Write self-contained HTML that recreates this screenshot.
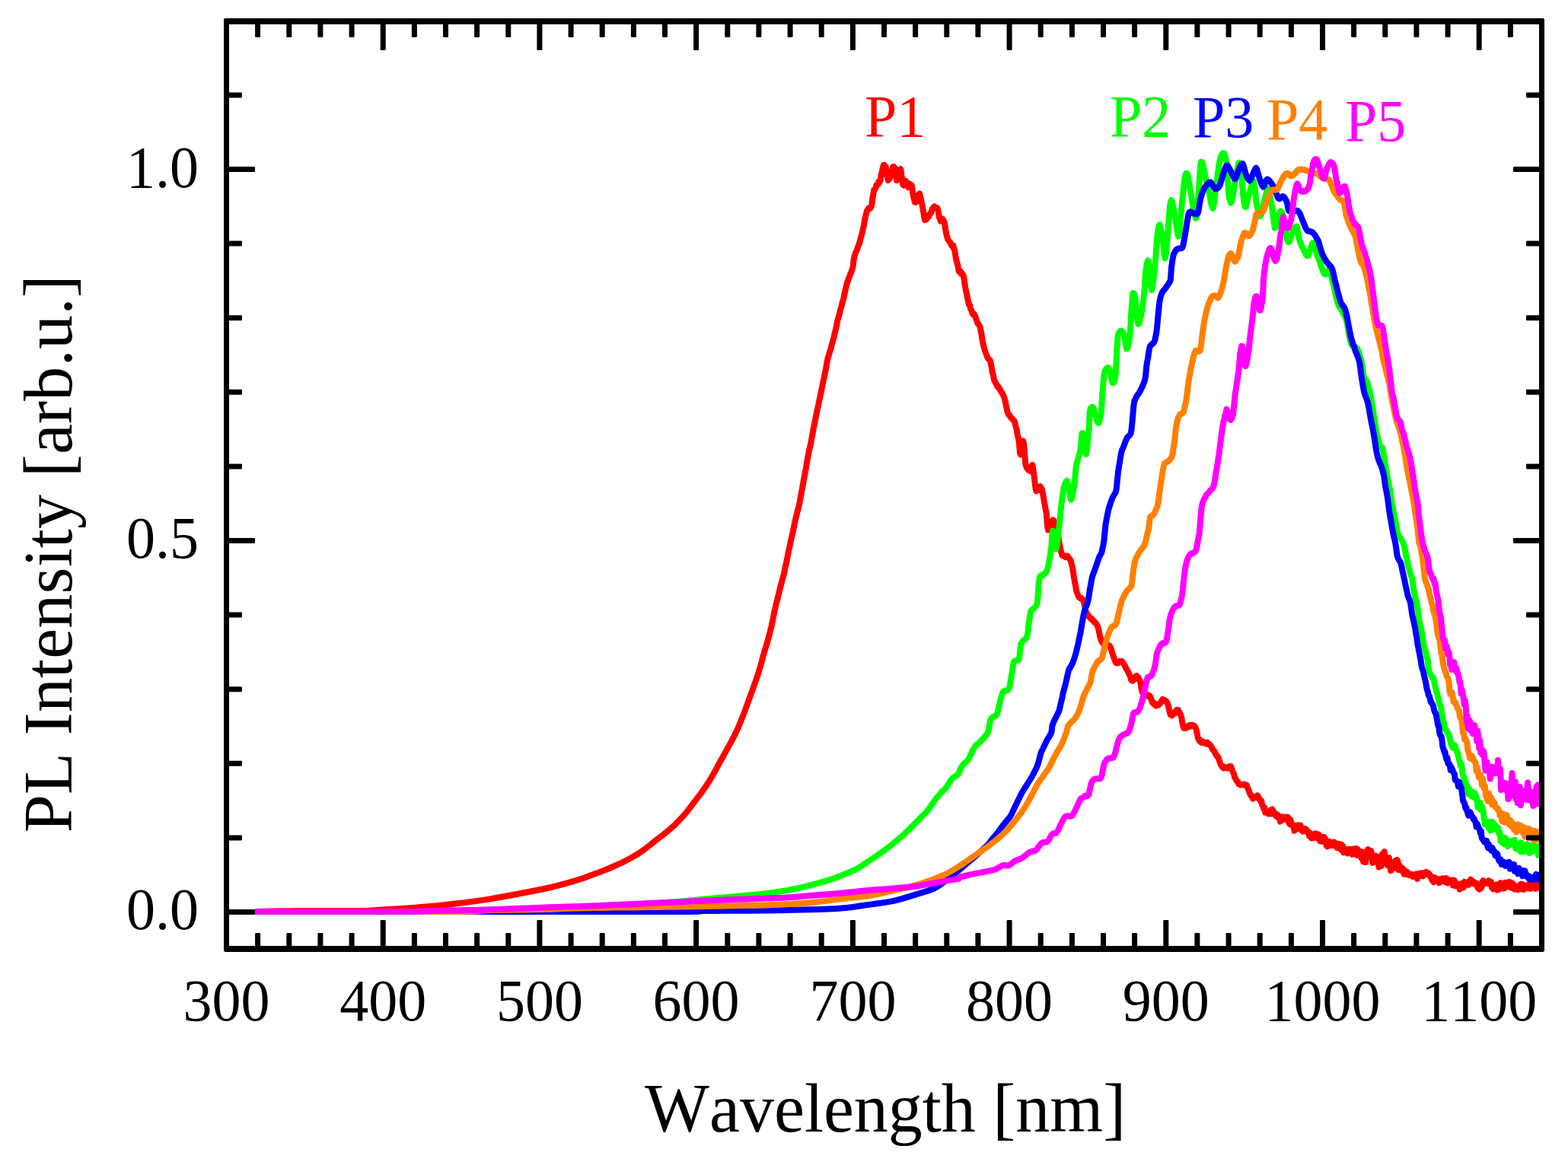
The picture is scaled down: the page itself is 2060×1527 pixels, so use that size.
<!DOCTYPE html>
<html lang="en">
<head>
<meta charset="utf-8">
<title>PL Intensity vs Wavelength</title>
<style>
html,body{margin:0;padding:0;background:#fff;}
body{width:2060px;height:1527px;overflow:hidden;}
svg{display:block;}
text{font-family:"Liberation Serif","DejaVu Serif",serif;font-kerning:none;}
.tk{font-size:77.7px;fill:#000;}
.ax{font-size:90px;fill:#000;}
.lb{font-size:77.7px;}
.cv{fill:none;stroke-width:8;stroke-linejoin:round;stroke-linecap:butt;}
</style>
</head>
<body>
<svg width="2060" height="1527" viewBox="0 0 2060 1527" role="img" aria-label="PL intensity versus wavelength for samples P1 to P5">
<rect x="0" y="0" width="2060" height="1527" fill="#ffffff"/>
<defs><clipPath id="plot"><rect x="297.5" y="28" width="1728" height="1219"/></clipPath></defs>
<g clip-path="url(#plot)">
<polyline class="cv" stroke="#ff0000" points="335,1198 346.9,1197.8 358.2,1197.5 369.9,1197.3 381.4,1197.2 392.1,1197.1 403.2,1197.1 414.9,1197.1 426.2,1197 437.2,1197 448.2,1197 459.3,1197 470,1196.9 481.9,1196.7 492.5,1196.2 502.8,1195.5 513.5,1194.8 523.9,1194.2 534.8,1193.5 545.3,1192.7 556.3,1191.8 566,1190.9 576.8,1189.9 588,1188.7 598.4,1187.5 610,1186.1 621.6,1184.6 632.2,1183.1 643.5,1181.4 654.4,1179.5 665.6,1177.5 676.5,1175.5 687.8,1173.3 698.4,1171.3 710,1169 721.6,1166.5 732.2,1163.9 743.5,1160.8 754.1,1157.8 764.9,1154.4 775.6,1150.6 786.6,1146.6 796.8,1142.5 806.9,1138.2 815.9,1134.2 826.5,1128.7 835.7,1123.6 845.4,1117.1 853.2,1111.1 861.2,1104.7 869.4,1098.4 878.2,1091.3 886.4,1084.2 894.2,1076.1 901.6,1067.8 908,1059.4 914.7,1050.6 921.1,1042.3 927.5,1033.1 933.7,1023.4 938.9,1014.2 944.5,1003.9 949.7,994.5 955.3,984.4 960.4,975.1 965.6,965.1 970.3,955.1 974,946 977.9,936.1 981.4,926.5 985,916.7 988.6,906.8 992.6,895.5 996.1,885.4 999.4,874.4 1002.1,863.8 1005.1,853.6 1008.2,843.5 1011.3,832.1 1013.4,823.4 1015.4,813.8 1017.5,803.5 1019.6,794.4 1021.6,786.2 1023.7,777.8 1025.7,769.8 1027.8,761.7 1029.9,754.1 1031.9,744.5 1034,734.9 1036,724.5 1038.1,714.9 1040.2,705.5 1042.2,696.3 1044.3,686.2 1046.3,677.6 1047.4,672.9 1048.4,669.4 1050.5,660.3 1052.5,649.6 1054.6,638.5 1056.6,627 1058.7,616.2 1059.7,610.2 1060.8,603.8 1062.8,592.7 1064.9,584.2 1066.9,573.4 1069,561.6 1071.1,551.8 1073.1,541.3 1075.2,531.9 1077.2,522.4 1079.3,512.4 1081.4,502 1083.4,492.6 1085.5,482.4 1086.5,476 1087.5,471.4 1089.6,464 1091.7,457.4 1092.7,453.1 1094.8,446.1 1096.8,437.4 1098.9,428.9 1099.9,422.9 1103,412.1 1104,407.1 1105.1,404 1107.1,396.1 1108.1,392.8 1110.2,383.1 1112.3,373.6 1115.4,364.6 1116.4,362.8 1117.4,359.2 1118.4,357.7 1120.5,351.1 1121.5,342.3 1122.6,336.6 1124.6,330.7 1125.7,329.1 1127.7,322.7 1128.7,320.9 1130.8,313 1132.9,305.1 1134.9,296.3 1136,289.1 1138,280.7 1139,277.1 1140.1,275.2 1141.1,273.7 1142.1,274.5 1143.2,272.9 1144.2,272.8 1145.2,269.5 1146.3,260.7 1148.3,249.5 1149.3,248.6 1150.4,247.2 1151.4,243.2 1152.4,243.4 1153.5,242.4 1154.5,238.7 1155.5,239.7 1156.6,237.2 1157.6,230.3 1159.6,221.7 1160.7,217.2 1161.7,216.9 1163.8,219.2 1164.8,225.7 1165.8,232.8 1166.9,236.9 1167.9,235.1 1168.9,234.9 1171,228 1172,225.3 1173,219.5 1174.1,219 1175.1,221.7 1176.1,221.2 1177.2,232.5 1178.2,237.1 1179.2,236.4 1181.3,225.8 1182.3,223.3 1183.3,222.3 1184.4,230.8 1185.4,236 1186.4,243.1 1187.5,243.6 1188.5,239.5 1189.5,237.5 1190.5,239.3 1191.6,239.8 1192.6,241.7 1193.6,246.2 1194.7,245.7 1195.7,241.8 1196.7,243.2 1197.8,243.5 1198.8,250.8 1199.8,257.4 1201.9,265.8 1202.9,265.9 1203.9,265.4 1205,262.1 1206,257.2 1208.1,254.4 1209.1,258.2 1211.1,267.3 1213.2,278.5 1214.2,285.4 1215.3,289.2 1216.3,287.2 1217.3,288.2 1218.4,286.6 1219.4,283.5 1220.4,284.5 1221.4,281.5 1223.5,278.8 1224.5,275.4 1225.6,273.2 1226.6,272.8 1227.6,271.3 1228.7,272.6 1229.7,272.7 1231.7,273.6 1232.8,278.1 1233.8,285.6 1234.8,286.6 1235.9,290.7 1236.9,287.1 1239,288.4 1240,290.6 1241,293.5 1242,300.1 1243.1,306.9 1245.1,314.1 1247.2,317.5 1248.2,318.3 1249.3,321 1250.3,322.9 1251.3,323.8 1252.3,322.4 1253.4,327.8 1254.4,329.4 1255.4,337 1256.5,342.1 1258.5,349.6 1259.6,356.1 1260.6,355.3 1261.6,356.2 1262.6,359.6 1263.7,358.9 1265.7,362.1 1266.8,368.3 1267.8,375.8 1269.9,385.8 1271.9,395.5 1272.9,400.4 1274,400.7 1275,405.9 1276,407.2 1277.1,410.6 1278.1,413 1279.1,412 1280.2,413.6 1282.2,418.4 1284.3,424.7 1285.3,425.4 1286.3,427.5 1287.4,429 1289.4,438.6 1290.5,446.2 1291.5,451.6 1293.5,459.5 1296.6,468 1297.7,470.8 1298.7,471.3 1300.8,473.7 1302.8,483.1 1303.8,489.8 1304.9,493 1305.9,498.9 1308,503.3 1309,504.5 1310,507.6 1311.1,507.4 1312.1,510.2 1313.1,510.3 1315.2,514.9 1316.2,516 1318.3,519.8 1319.3,522.1 1320.3,525.9 1322.4,535.8 1323.4,540.5 1324.4,543.9 1326.5,546.1 1327.5,548.4 1328.6,548.6 1330.6,551.2 1331.7,552.7 1332.7,553.3 1334.7,561.1 1335.8,564.9 1336.8,572.2 1337.8,575.2 1338.9,581.4 1339.9,594.6 1340.9,597.5 1342,592.7 1343,584.8 1344,579.5 1345,582.4 1346.1,594.5 1347.1,609.2 1348.1,612.9 1349.2,615.3 1350.2,615.6 1351.2,618 1352.3,618 1353.3,619 1354.3,617.2 1355.3,612.4 1356.4,610.9 1357.4,616.9 1358.4,624.2 1359.5,633.4 1360.5,641.8 1361.5,645.3 1363.6,644.2 1364.6,641.4 1365.6,641 1366.7,639.2 1368.7,642.8 1369.8,647.1 1371.8,658.9 1373.9,670.5 1374.9,675 1375.9,690.2 1377,696.5 1378,695.7 1379,693.1 1380.1,692.3 1381.1,689.7 1382.1,685.5 1383.2,683.3 1384.2,683.7 1386.2,689.1 1388.3,696.8 1390.4,705.3 1391.4,711.9 1393.5,722.4 1394.5,726.8 1395.5,729.8 1397.6,730.8 1398.6,730.6 1399.6,732.1 1400.7,730.7 1401.7,731.8 1402.7,730.8 1404.8,734.1 1405.8,735.3 1406.8,737.3 1408.9,745.4 1409.9,751.3 1411,759.4 1413,769.6 1414.1,776.5 1417.1,784.4 1418.2,785.6 1419.2,785.2 1420.2,785.8 1421.3,787.7 1423.3,788.7 1425.4,797.4 1426.4,803.3 1427.4,804.8 1428.5,807.8 1429.5,808.1 1430.5,810.3 1432.6,811.9 1433.6,813.9 1434.7,813.3 1435.7,815.4 1436.7,815.7 1437.7,817.9 1438.8,817.8 1439.8,819 1440.8,820.6 1442.9,825.4 1443.9,829.9 1445,836.1 1446,839.6 1448,844.4 1449.1,845.1 1451.1,848.8 1452.2,848.4 1453.2,849 1454.2,848.1 1455.3,848.5 1456.3,847.7 1457.3,848.1 1458.3,849.5 1459.4,851.6 1461.4,858.8 1462.5,861.5 1463.5,864.9 1465.6,870 1466.6,871.3 1467.6,870.5 1468.6,871.4 1469.7,870.5 1470.7,869 1471.7,869.7 1472.8,869.4 1473.8,868.8 1477.9,874.7 1478.9,877.7 1480,878.9 1483.1,885.4 1484.1,886.8 1485.1,889.7 1486.2,893.7 1487.2,893.2 1488.2,894.6 1490.3,892.1 1492.3,888.6 1493.4,888.2 1494.4,890 1495.4,889.9 1496.5,893.2 1497.5,894.4 1498.5,897 1499.5,905 1500.6,909.6 1501.6,910 1502.6,910.8 1503.7,911 1504.7,912.6 1505.7,913.9 1506.8,913.4 1507.8,914.5 1508.8,913.5 1509.8,915.6 1510.9,914.8 1514,923.3 1515,922.8 1516,925.3 1517.1,926.4 1518.1,925.3 1519.1,927.6 1520.1,926.5 1521.2,925.8 1522.2,926.4 1523.2,925 1524.3,924.1 1527.4,918.9 1528.4,919.9 1529.4,919.7 1530.4,921.1 1531.5,920.6 1533.5,923.7 1534.6,926.2 1536.6,935.4 1537.7,939.3 1538.7,939.5 1539.7,940.3 1541.8,938.4 1542.8,938 1543.8,935.3 1544.9,934.4 1545.9,932.9 1546.9,933.8 1548,933.2 1549,936.6 1550,936.9 1551,938.9 1552.1,942.4 1553.1,948.6 1554.1,953.5 1555.2,956.7 1556.2,957.1 1557.2,956.8 1558.3,956.8 1559.3,955.2 1560.3,954.7 1561.3,955.2 1562.4,953 1563.4,952.8 1564.4,954.4 1565.5,954 1566.5,952.7 1567.5,953.9 1568.6,953.7 1569.6,954.3 1570.6,956.1 1571.6,958.7 1573.7,968.8 1574.7,971.6 1575.8,973.7 1576.8,972.6 1577.8,975.4 1578.9,973.9 1579.9,976.2 1580.9,975 1581.9,976.1 1583,976.4 1584,977.3 1585,975.7 1586.1,975.5 1587.1,977.6 1588.1,978.1 1589.2,978.3 1591.2,980.9 1592.2,983.2 1594.3,986.2 1595.3,986.9 1596.4,989.8 1597.4,991.2 1598.4,993.5 1599.5,993.6 1600.5,995.5 1603.6,1004.4 1605.6,1007.8 1606.7,1007 1607.7,1009.6 1608.7,1008.8 1610.8,1008.6 1611.8,1008.1 1612.8,1009.5 1613.9,1007.6 1615.9,1007 1617,1007.1 1619,1012.3 1620.1,1015.6 1621.1,1017.3 1622.1,1021.7 1623.1,1022.9 1625.2,1026.9 1626.2,1027.4 1627.3,1030.2 1628.3,1030.1 1629.3,1031.6 1633.4,1031 1634.5,1030.5 1635.5,1032 1636.5,1031.1 1637.6,1031.5 1638.6,1033.6 1642.7,1044.5 1643.7,1045.8 1644.8,1046.5 1645.8,1049.5 1646.8,1049.1 1647.9,1046.9 1648.9,1047.7 1649.9,1046.4 1651,1046.4 1652,1045.4 1653,1046.5 1654,1049.8 1655.1,1050.1 1656.1,1052.8 1657.1,1052.1 1658.2,1057.6 1659.2,1059.3 1660.2,1062.5 1661.3,1061.4 1662.3,1067.7 1663.3,1066.1 1665.4,1067.4 1666.4,1069.4 1667.4,1066.3 1668.5,1069.1 1669.5,1064.5 1670.5,1069.4 1671.6,1063.5 1672.6,1067 1673.6,1069 1674.6,1067.9 1675.7,1071.6 1676.7,1073.1 1677.7,1073.3 1678.8,1070.9 1679.8,1074.8 1680.8,1072.5 1681.9,1079.7 1682.9,1073.8 1683.9,1078.4 1684.9,1076.3 1686,1073.5 1687,1076.4 1688,1075.8 1689.1,1076.8 1690.1,1073.5 1691.1,1075.6 1692.2,1074 1693.2,1081 1694.2,1082.7 1695.2,1076.8 1696.3,1081.2 1697.3,1084.3 1698.3,1084 1699.4,1084.2 1700.4,1091.7 1701.4,1089.5 1702.5,1090.2 1703.5,1087.5 1704.5,1088.9 1705.5,1084.4 1706.6,1085.8 1708.6,1084.7 1709.7,1090.1 1710.7,1091.9 1711.7,1092.7 1712.8,1091.6 1713.8,1091.2 1714.8,1089.2 1715.8,1091.4 1716.9,1090.8 1717.9,1094.1 1718.9,1093 1720,1098.4 1721,1094.5 1722,1095.7 1723.1,1101.5 1724.1,1100.2 1725.1,1099.6 1726.1,1100.9 1727.2,1095.6 1728.2,1095.3 1729.2,1101.2 1731.3,1101.1 1732.3,1096.3 1733.4,1102.5 1734.4,1105.5 1735.4,1100.6 1736.4,1100 1737.5,1105.9 1738.5,1100.9 1739.5,1100 1741.6,1103.1 1742.6,1111.2 1743.7,1112.3 1744.7,1105.9 1745.7,1107.3 1746.7,1105.9 1747.8,1111.2 1748.8,1107.2 1749.8,1107.2 1750.9,1107.7 1751.9,1111.3 1752.9,1106.6 1754,1107.6 1755,1110.2 1756,1109.1 1757,1114.1 1759.1,1108.9 1760.1,1113.6 1761.2,1116 1762.2,1109.6 1763.2,1117.6 1764.3,1111.6 1765.3,1120.3 1766.3,1117.5 1767.3,1118.9 1768.4,1118.7 1769.4,1116.3 1770.4,1121.6 1771.5,1116 1772.5,1120 1773.5,1116 1774.6,1120.3 1775.6,1118.5 1776.6,1122.8 1777.6,1115.5 1778.7,1119.8 1779.7,1119.5 1780.7,1116.4 1781.8,1114.9 1782.8,1123.8 1783.8,1116.1 1785.9,1120.2 1786.9,1119 1787.9,1126.4 1789,1128.3 1790,1119.5 1791,1132.2 1792.1,1126.2 1793.1,1127.2 1794.1,1133.1 1795.2,1119.2 1796.2,1125.5 1797.2,1116.3 1798.2,1125.1 1799.3,1125.2 1800.3,1125.9 1801.3,1118.1 1802.4,1127.3 1803.4,1133.9 1805.5,1128.3 1806.5,1124.5 1807.5,1127.8 1808.5,1125 1809.6,1126.6 1810.6,1135 1811.6,1139.5 1812.7,1133.2 1813.7,1131.1 1814.7,1138.3 1815.8,1122.5 1816.8,1132 1817.8,1133.4 1818.8,1119.3 1819.9,1127.6 1820.9,1134.5 1821.9,1128.7 1823,1136.9 1824,1127.6 1825,1127.2 1826.1,1137.6 1827.1,1144.2 1828.1,1133.4 1829.1,1139 1831.2,1141 1832.2,1133.1 1833.3,1131.2 1834.3,1139.1 1835.3,1129.9 1836.4,1131.6 1837.4,1143.1 1838.4,1136.8 1840.5,1142.5 1841.5,1144.3 1842.5,1140.5 1843.6,1142.6 1844.6,1148.6 1845.6,1145.2 1846.7,1147.7 1847.7,1145 1848.7,1149.2 1849.7,1147 1850.8,1149.3 1851.8,1150.2 1852.8,1149.8 1853.9,1149 1854.9,1151.1 1855.9,1151.9 1857,1150.1 1858,1149.2 1859,1149.9 1860,1149.4 1861.1,1148.6 1862.1,1154.9 1863.1,1150 1864.2,1151.7 1865.2,1147.8 1867.3,1147.2 1869.3,1151.3 1870.3,1148.7 1872.4,1146.4 1873.4,1145.9 1874.5,1148.4 1875.5,1146.9 1876.5,1149.4 1877.6,1148.2 1880.6,1155 1881.7,1156.9 1882.7,1152.6 1883.7,1159.3 1884.8,1153.3 1885.8,1157.2 1886.8,1155.6 1887.9,1155.8 1888.9,1156.3 1889.9,1155.3 1890.9,1160.2 1892,1157.1 1893,1158.7 1894,1158.2 1895.1,1154.2 1897.1,1154.4 1898.2,1158 1899.2,1159.3 1900.2,1154.1 1901.2,1155 1902.3,1160.4 1903.3,1158 1904.3,1156.7 1905.4,1158.8 1906.4,1159.6 1907.4,1156.5 1908.5,1163 1909.5,1161.7 1910.5,1156.6 1911.5,1164.3 1912.6,1159.6 1913.6,1164.1 1914.6,1163.1 1915.7,1163.5 1916.7,1162.8 1917.7,1168.6 1919.8,1161.4 1920.8,1162.4 1921.8,1166.8 1922.9,1166.4 1923.9,1158.9 1924.9,1161.7 1926,1159.6 1927,1159.8 1928,1162 1929.1,1162.8 1930.1,1159 1932.1,1155.6 1933.2,1160.6 1934.2,1157.3 1935.2,1160.1 1936.3,1159 1937.3,1161.9 1938.3,1161.6 1939.4,1161.7 1940.4,1160.9 1941.4,1166.7 1942.4,1166.9 1943.5,1168.7 1944.5,1166.2 1945.5,1167.6 1946.6,1165.3 1947.6,1158.8 1948.6,1157.2 1949.7,1159.7 1950.7,1161.1 1951.7,1160.3 1953.8,1160.7 1954.8,1161.1 1955.8,1157.3 1956.9,1161 1957.9,1161.2 1958.9,1158.8 1960,1166.4 1961,1165.5 1962,1168.5 1963,1163.1 1964.1,1166.5 1965.1,1164.9 1966.1,1162.5 1967.2,1169.6 1968.2,1166.8 1969.2,1168.8 1970.3,1161.4 1971.3,1160.3 1972.3,1163.9 1973.3,1161.2 1974.4,1166.3 1975.4,1167.6 1976.4,1167.3 1977.5,1159.8 1978.5,1162.8 1979.5,1163.6 1980.6,1160.5 1981.6,1165.1 1982.6,1159 1983.6,1159.2 1984.7,1161.3 1985.7,1166.7 1986.7,1160.4 1987.8,1161.7 1989.8,1168.7 1990.9,1166.7 1991.9,1167.4 1992.9,1164.5 1993.9,1169.3 1995,1165.7 1996,1166.2 1997,1164.5 1998.1,1161.7 1999.1,1168.5 2000.1,1161.9 2001.2,1167.7 2002.2,1168.9 2003.2,1168 2004.2,1163.9 2005.3,1163.4 2006.3,1163.3 2007.3,1163.8 2008.4,1167.4 2009.4,1161.8 2010.4,1163.7 2011.5,1167.6 2012.5,1162.3 2013.5,1165.8 2014.5,1161.7 2015.6,1162.8 2016.6,1161 2017.6,1167.8 2018.7,1164.9 2019.7,1163.3 2020.7,1164.1 2021.8,1162.8 2022.8,1166.9 2023.8,1159.8 2024.8,1165.9 2025.9,1165.4 2026.9,1167.1 2028.9,1165.7"/>
<polyline class="cv" stroke="#00ff00" points="335,1198.2 345.7,1198.2 356.4,1198.2 367.5,1198.2 377.7,1198.2 388.8,1198.3 400.5,1198.3 410.2,1198.3 420.2,1198.3 430.3,1198.3 440.5,1198.3 450.7,1198.3 460.8,1198.3 470.7,1198.3 480.4,1198.3 492.1,1198.3 503.1,1198.3 513.4,1198.3 524.3,1198.3 535.1,1198.2 546.9,1198.1 558.3,1198 569.7,1197.8 580.8,1197.6 591.6,1197.3 602,1197.1 613.8,1196.8 624.6,1196.5 635.8,1196.1 647.3,1195.8 657.7,1195.4 668.9,1195 680.5,1194.5 691.8,1194.1 702.4,1193.7 713.2,1193.3 724.5,1192.8 735.2,1192.5 745.4,1192.2 756.6,1191.9 768.3,1191.5 778.9,1191.1 790.2,1190.6 801.1,1190.2 811.6,1189.7 823.1,1189.1 834.3,1188.5 845.5,1187.9 857,1187.2 867.6,1186.5 878.6,1185.7 889.5,1184.9 900,1184.1 909.9,1183.2 921,1182.1 932.7,1180.9 943.8,1179.9 954.8,1179 966.5,1178 977.3,1177.1 988.1,1176.1 1000,1174.9 1010.9,1173.5 1022.3,1171.8 1033.2,1170.2 1043.5,1168.3 1054.1,1165.8 1064.8,1163.1 1074.8,1160.6 1085.1,1157.7 1095.5,1154.2 1105.5,1150.4 1116.4,1146 1126.6,1141.3 1135,1135.9 1144.1,1129.7 1153.4,1123.4 1162.2,1117.2 1171,1110.4 1179.7,1103.3 1188.2,1095.9 1195.5,1088.8 1203.1,1081.1 1211.3,1072.8 1218.5,1065.5 1224.7,1056.5 1228.8,1050.6 1231.9,1046.8 1233,1045.8 1237.1,1040.8 1239.1,1039 1240.2,1037.8 1241.2,1037 1243.3,1034.6 1249.4,1025 1251.5,1022.5 1252.5,1021.7 1253.6,1021.3 1258.7,1017.5 1262.8,1008.8 1263.9,1006.5 1265.9,1003.9 1268,1002.1 1269,1001.5 1271.1,999.5 1273.1,996.6 1275.2,991.9 1276.2,990.1 1277.2,987.4 1281.4,980.4 1284.5,977.3 1285.5,976.8 1291.7,970.6 1293.7,968 1294.8,967.2 1297.8,962.7 1298.9,958.4 1300.9,947.1 1302,944.8 1303,943.4 1305.1,941.7 1306.1,942 1308.1,940.3 1309.2,939.8 1310.2,937.4 1312.3,929 1313.3,923.9 1314.3,920.4 1315.4,915.7 1317.4,909.7 1319.5,907.9 1321.5,907.7 1323.6,907.1 1324.6,906.1 1325.7,904.4 1326.7,901.1 1327.7,894.9 1328.7,888.7 1329.8,882.8 1330.8,874.8 1331.8,869.8 1332.9,868.7 1334.9,868.1 1338,867.6 1339,865.9 1340.1,855.1 1341.1,846.4 1343.2,843.1 1346.3,840.1 1347.3,839.5 1348.3,838.3 1349.3,836 1350.4,830.5 1351.4,820.9 1352.4,813.6 1353.5,806.8 1354.5,802.7 1355.5,801.8 1356.6,800.3 1357.6,800.2 1359.6,798.1 1360.7,796.7 1362.7,792.9 1363.8,780 1364.8,765.6 1365.8,758.6 1367.9,756.1 1368.9,755.4 1369.9,755.7 1371,754.8 1372,754.6 1374.1,752.1 1375.1,750.3 1376.1,748 1378.2,738.5 1380.2,727.3 1381.3,718.3 1382.3,701.3 1383.3,697.7 1384.4,703.7 1385.4,711.1 1386.4,717 1387.5,721.5 1388.5,718.4 1389.5,710 1390.5,700.7 1391.6,691.2 1392.6,680.9 1393.6,669.7 1394.7,660.9 1395.7,653.2 1396.7,645.7 1397.8,640.3 1399.8,634.1 1400.8,632.6 1401.9,631.7 1402.9,634.8 1405,645.1 1406,652.6 1407,656.7 1408.1,655.2 1410.1,645.4 1411.1,639 1412.2,629.1 1413.2,617.1 1414.2,610.3 1417.3,599.6 1418.4,595.7 1419.4,590.4 1420.4,580.4 1421.4,569.5 1422.5,569.3 1424.5,581 1425.6,590.2 1426.6,596.9 1427.6,594.2 1428.7,583.5 1429.7,572 1430.7,562.1 1431.7,541 1432.8,536.5 1433.8,535.4 1434.8,534.9 1435.9,534.8 1437.9,541 1441,552 1442,554.7 1443.1,556.1 1444.1,554.5 1445.1,550.8 1446.2,545.4 1447.2,536.2 1448.2,518.7 1449.3,504.2 1450.3,493.6 1451.3,488.9 1452.3,486.2 1453.4,484.4 1455.4,482.9 1456.5,483.7 1457.5,485.5 1458.5,488.8 1460.6,498.5 1461.6,503.1 1462.6,503.2 1463.7,501 1464.7,497.7 1465.7,492.2 1466.8,470.7 1467.8,451.4 1468.8,440.5 1469.9,437.4 1471.9,434.9 1472.9,434.6 1474,435.2 1476,438.2 1477.1,441 1478.1,447.2 1479.1,453.8 1480.2,458.4 1481.2,457.6 1482.2,453.9 1483.2,447.9 1484.3,441.3 1485.3,428.5 1486.3,409.7 1487.4,394.6 1488.4,385.2 1489.4,385.3 1490.5,387.4 1491.5,393.3 1492.5,403.4 1493.5,413.9 1494.6,423 1495.6,426.1 1496.6,424.6 1498.7,416.7 1499.7,411.9 1500.8,405.7 1501.8,397.6 1502.8,387.7 1503.8,378.1 1504.9,359.1 1505.9,351.1 1506.9,346 1508,342.4 1509,344.7 1510,353.5 1511.1,364.2 1512.1,375.9 1513.1,381.1 1514.1,375.9 1515.2,368.4 1516.2,361 1517.2,351.2 1518.3,338.1 1519.3,324.3 1520.3,310.6 1521.4,302.5 1522.4,297.3 1523.4,295.2 1524.4,298.4 1525.5,302.9 1526.5,309.8 1527.5,316.1 1528.6,323.6 1529.6,333.5 1530.6,339.4 1531.7,335.3 1532.7,325.1 1533.7,313.3 1534.7,301.1 1535.8,286.3 1536.8,272.4 1537.8,265.5 1538.9,263.2 1539.9,264.9 1542,275.1 1544,286.5 1545,293.1 1546.1,300.8 1547.1,307.2 1548.1,310.4 1549.2,305.3 1550.2,295.8 1551.2,284.6 1552.3,273.4 1553.3,262.4 1554.3,252.5 1555.3,243.1 1556.4,234.2 1557.4,229.7 1558.4,227.6 1559.5,228.3 1560.5,230 1561.5,236.2 1562.6,242 1563.6,248.3 1564.6,254.9 1566.7,266.6 1567.7,272.9 1569.8,283.2 1570.8,286.8 1571.8,285.8 1572.9,277.6 1573.9,264.8 1574.9,251.1 1575.9,235 1577,218.3 1578,212.8 1579,213.1 1580.1,215.3 1581.1,219.7 1583.2,230.6 1585.2,240.1 1587.3,248.4 1588.3,251.7 1589.3,256.6 1591.4,268.2 1592.4,271.9 1593.5,273.9 1594.5,269.7 1595.5,262.5 1596.5,253.6 1597.6,245.2 1598.6,237.4 1599.6,229.8 1600.7,222.4 1601.7,215.4 1602.7,210 1603.8,206 1604.8,203.4 1606.8,201.3 1607.9,201.5 1608.9,203.2 1611,212.2 1612,218.2 1613,237.3 1614.1,254.3 1615.1,260.4 1616.1,264 1617.1,266.7 1618.2,265 1619.2,260.5 1620.2,254.6 1621.3,247.4 1622.3,241.3 1623.3,234.2 1624.4,228.3 1625.4,222.3 1627.4,214.2 1628.5,213.8 1629.5,215 1630.5,224.8 1631.6,237.1 1632.6,249.1 1633.6,260.1 1634.7,267.6 1635.7,272 1636.7,272.1 1638.8,264.1 1639.8,259 1642.9,248.2 1645,241.2 1646,239.4 1647,238.3 1648,243.5 1649.1,251.8 1650.1,262.3 1651.1,269.1 1653.2,277.9 1655.3,284.3 1656.3,282.8 1658.3,275.3 1660.4,266.2 1662.5,257.4 1663.5,254.4 1664.5,250.2 1665.6,247.7 1666.6,248.1 1668.6,257.3 1669.7,263.7 1670.7,269.5 1671.7,276.8 1672.8,285.7 1673.8,293.6 1674.8,299.6 1675.9,299 1676.9,295.2 1678.9,285 1680,280.8 1682,277.6 1684.1,279.1 1686.2,288.2 1688.2,298.7 1690.3,310.3 1691.3,315.7 1692.3,318 1693.4,318 1694.4,316.3 1697.5,307.1 1699.5,301.9 1702.6,297.4 1703.7,297.5 1704.7,302.3 1705.7,309.4 1707.8,317.7 1708.8,319.5 1709.8,322.7 1711.9,326.4 1712.9,328.8 1714,330.5 1715,333.2 1716,334.4 1717.1,336.2 1718.1,336.2 1719.1,334.9 1721.2,328.5 1722.2,324.6 1724.3,319.7 1725.3,319.4 1726.3,321.4 1729.4,331.8 1730.4,335.4 1731.5,337.7 1734.6,346.5 1735.6,349.9 1736.6,352 1737.7,355.4 1739.7,359.9 1740.7,360.5 1741.8,360 1742.8,358.4 1743.8,357.5 1744.9,355.4 1745.9,355.1 1746.9,356.3 1748,359.3 1750,366.8 1751,371.5 1752.1,374.6 1754.1,383.9 1755.2,389.7 1757.2,397.6 1758.3,400.7 1759.3,402.7 1760.3,403.9 1761.3,406 1762.4,407.2 1763.4,409.2 1764.4,410.7 1765.5,413.3 1766.5,415 1768.6,420 1769.6,423.5 1771.6,435 1773.7,446.7 1775.8,453.3 1776.8,453.9 1777.8,455.1 1778.9,455.2 1779.9,456 1781.9,456.5 1783,457.8 1784,460.5 1785,462.3 1787.1,468.9 1789.2,477.6 1790.2,484.2 1791.2,491.9 1792.2,496.4 1793.3,498.8 1794.3,499.5 1795.3,500.8 1796.4,502.8 1797.4,505.7 1798.4,509.4 1800.5,519.3 1801.5,524.7 1802.5,531.7 1803.6,537.4 1804.6,544.1 1805.6,550.2 1806.7,557.1 1808.7,568.7 1810.8,578.4 1811.8,582.7 1812.8,586.1 1813.9,586.6 1814.9,587.8 1815.9,587.9 1817,591.3 1818,598.5 1819,605.3 1820.1,611.7 1821.1,617.8 1823.1,628.8 1824.2,634.4 1825.2,638.6 1826.2,644.1 1827.3,651.7 1828.3,659 1830.4,669.9 1832.4,680.3 1834.5,690.8 1835.5,696.9 1837.6,704.1 1838.6,705.6 1839.6,706.3 1840.7,707.5 1841.7,709.9 1843.7,713.8 1845.8,722.3 1846.8,727.9 1848.9,737.1 1849.9,742.6 1852,750.3 1853,754.3 1855.1,759.6 1856.1,767.3 1857.1,773.7 1859.2,783.9 1861.3,793.4 1862.3,797.5 1863.3,803.6 1864.3,813.9 1865.4,819.6 1866.4,822.5 1868.5,833.2 1869.5,842.5 1870.5,848 1872.6,855.6 1873.6,858.1 1874.6,863.6 1875.7,866.7 1876.7,876.9 1877.7,882.5 1880.8,889.3 1881.9,891 1882.9,890.1 1883.9,893.8 1884.9,899.6 1886,903.2 1887,908.5 1888,910.2 1889.1,915.9 1890.1,918.1 1891.1,924.6 1893.2,929.4 1894.2,939 1895.2,941.1 1896.3,950.9 1897.3,950 1898.3,958.2 1899.4,958.5 1900.4,961.4 1901.4,961.2 1902.5,965 1903.5,965.9 1904.5,969.3 1906.6,978.7 1908.6,982.7 1909.7,982.8 1910.7,979 1911.7,980.3 1913.8,987.2 1914.8,988.9 1916.9,998.2 1918.9,1006.7 1920,1003.9 1921,1013.8 1922,1019.1 1923.1,1020.4 1924.1,1027.6 1925.1,1025.8 1926.1,1033.2 1927.2,1031.7 1928.2,1037.3 1929.2,1043.7 1930.3,1036.5 1931.3,1041.1 1932.3,1043.3 1933.4,1046.5 1934.4,1040.2 1935.4,1041.5 1936.4,1047.7 1937.5,1042.1 1938.5,1048.6 1939.5,1046.4 1940.6,1054 1941.6,1061.3 1942.6,1057.3 1943.7,1055.6 1944.7,1054.9 1945.7,1064.3 1946.7,1059.6 1948.8,1067.3 1949.8,1076.8 1950.9,1083.3 1951.9,1079.8 1952.9,1083.7 1954,1079.5 1955,1079.9 1956,1088.4 1957,1085 1958.1,1091.4 1959.1,1080.1 1960.1,1089.3 1961.2,1080.2 1962.2,1082 1963.2,1090 1964.3,1084.1 1965.3,1087.2 1966.3,1086.5 1967.3,1087.3 1968.4,1088.6 1969.4,1095.8 1970.4,1093.7 1971.5,1105.2 1972.5,1099.1 1973.5,1107.7 1974.6,1108 1975.6,1108.9 1976.6,1103.4 1977.6,1101.1 1978.7,1103.6 1979.7,1109.8 1980.7,1112.1 1981.8,1104.7 1982.8,1108.8 1983.8,1105.8 1984.9,1109.7 1985.9,1105.2 1987.9,1108.2 1989,1107.7 1990,1103.6 1991,1114.7 1992.1,1115.6 1993.1,1111.4 1994.1,1109.5 1995.2,1111.9 1996.2,1116.2 1997.2,1119 1998.2,1107.2 1999.3,1119.6 2000.3,1113.5 2001.3,1111.3 2002.4,1119.2 2003.4,1115.7 2004.4,1113.1 2005.5,1118.8 2006.5,1109.5 2007.5,1112.7 2008.5,1110 2009.6,1121 2010.6,1118.4 2011.6,1112.9 2012.7,1112.1 2013.7,1119.1 2014.7,1114.5 2015.8,1111 2016.8,1116.9 2017.8,1116.9 2018.8,1118.4 2019.9,1118.1 2020.9,1123.7 2021.9,1111.8 2023,1122.9 2024,1111.2 2025,1111.9 2026.1,1115.3 2027.1,1120.7 2028.1,1121.5 2028.9,1111.5"/>
<polyline class="cv" stroke="#0000ff" points="335,1198 347,1198 357.8,1198 368.9,1198 379.8,1198 391.6,1198 402.5,1198 414,1198 424,1198 434.4,1198 445.2,1198 456.2,1198 467.6,1198 479.3,1198 491.2,1198 500.9,1198 510.7,1198 520.7,1198 530.8,1198 540.9,1198 551.2,1198 561.5,1198 571.8,1198 582.2,1198 592.7,1198 603.1,1198 613.6,1198 624.1,1198 634.5,1198.1 644.9,1198.1 655.3,1198.1 665.6,1198.1 675.8,1198.1 686,1198.1 696.1,1198.1 706,1198.1 715.8,1198.1 725.5,1198.1 737.4,1198.1 749.1,1198.1 760.5,1198.1 771.6,1198.1 782.3,1198.1 792.7,1198 804.7,1198 816,1198 826.8,1198 838.5,1198 849.2,1198 860.1,1198 871.7,1198 880,1198 890.5,1198 899.1,1197.9 906,1197.9 917.9,1197.7 920.4,1197.6 920.7,1197 930.8,1196.9 941.2,1196.9 952.7,1196.8 964.6,1196.8 976.1,1196.7 986.7,1196.7 998.7,1196.6 1009.8,1196.5 1020.7,1196.3 1032,1196 1042.9,1195.8 1054.2,1195.5 1066.1,1195.2 1077.3,1194.9 1088.4,1194.5 1100,1194 1110.9,1193.1 1121.6,1191.8 1131.5,1190.3 1142.9,1188.6 1153,1187.2 1164.5,1185.6 1175.5,1183.6 1185.5,1180.9 1196.2,1177.7 1206.6,1174.5 1217.4,1171.2 1226.4,1168 1235,1162.8 1244.3,1156.1 1252.8,1149.3 1261.8,1142 1269.3,1135.3 1277,1128.9 1284.8,1122.2 1292.7,1114.8 1298.2,1109.6 1305.1,1100.8 1310.3,1095 1316.5,1086.1 1323.7,1077.4 1326.8,1073.6 1328.8,1070.2 1333,1061.3 1337.1,1052.7 1342.2,1042.5 1347.4,1033.9 1353.6,1024.2 1354.6,1022.3 1355.6,1021 1360.8,1010.9 1361.8,1008.8 1363.9,1003.3 1365.9,995.9 1366.9,991.6 1368,988.3 1372.1,979.7 1376.2,971.3 1377.2,970 1378.3,968 1379.3,966.6 1381.4,962.4 1382.4,953.7 1384.5,948.1 1389.6,937.9 1390.6,935.9 1391.7,933.1 1393.7,924 1395.8,915.5 1396.8,910.1 1399.9,898.7 1402,889.4 1404,880.6 1405.1,878.3 1406.1,877.2 1409.2,871.5 1411.2,865.8 1413.3,858.9 1415.4,850.5 1417.4,841.4 1419.5,831.4 1420.5,825.4 1421.5,819.4 1423.6,808 1424.6,803.4 1425.7,799.9 1427.7,795.2 1428.7,792.3 1429.8,788 1430.8,781.6 1431.8,774.9 1433.9,763.2 1434.9,758.1 1439,747 1442.1,737.7 1444.2,731.7 1447.3,726.1 1449.3,716.8 1450.4,710.5 1451.4,700.6 1452.4,690.1 1453.5,683.6 1455.5,673.5 1456.6,668.5 1459.6,659.2 1461.7,653.8 1465.8,646.7 1466.9,641.6 1467.9,630.3 1468.9,621 1469.9,614.1 1471,607.6 1472,601 1473,595.2 1474.1,591.5 1476.1,587.1 1479.2,578.7 1481.3,574.7 1484.4,571.6 1485.4,570.1 1486.4,565.9 1487.5,554.8 1488.5,543 1489.5,531.8 1490.5,526.8 1493.6,520.3 1494.7,518.7 1495.7,517.6 1497.8,514.1 1498.8,511.8 1499.8,510.2 1502.9,502.9 1503.9,500 1505,495.1 1506,483.6 1507,476.1 1508.1,470.7 1509.1,463.4 1510.1,457.5 1511.1,454.7 1512.2,453.3 1513.2,452.7 1514.2,451.6 1515.3,451.2 1516.3,449.5 1517.3,446.9 1519.4,436.4 1520.4,426.8 1521.4,415.3 1522.5,404.3 1523.5,395.9 1524.5,391.1 1525.6,387.4 1526.6,384.8 1528.7,381.6 1529.7,380.7 1530.7,379.2 1531.7,378.3 1532.8,376.3 1533.8,375.2 1536.9,370.1 1537.9,367.3 1539,351.5 1540,344.2 1541,337.8 1542,333.9 1543.1,332.3 1544.1,329.9 1546.2,327.5 1548.2,326.6 1549.3,326.6 1550.3,326.2 1552.3,326.2 1553.4,325 1554.4,322.5 1555.4,317.1 1556.5,310.6 1557.5,304.6 1558.5,298.6 1559.6,291.3 1561.6,280.8 1562.6,279.1 1563.7,278.3 1564.7,278.5 1566.8,279.7 1569.9,281.1 1570.9,280.8 1571.9,281.4 1572.9,281.1 1574,279.6 1575,274.5 1576,268 1577.1,261.5 1579.1,254.6 1581.2,249.2 1582.2,247.8 1583.2,245.7 1584.3,244.6 1586.3,241.7 1587.4,240.9 1588.4,239.7 1589.4,239.5 1590.5,239.5 1591.5,240.6 1592.5,242.7 1593.5,243.7 1595.6,247.4 1596.6,248.2 1597.7,248.1 1598.7,247.4 1599.7,247.4 1602.8,243.2 1605.9,232.7 1609,222.3 1611.1,218 1612.1,217.3 1613.1,217.7 1614.1,220 1615.2,221.4 1618.3,227.7 1619.3,229.4 1621.4,234 1622.4,235.3 1623.4,234.2 1624.4,231.8 1627.5,223 1630.6,216.1 1632.7,215.2 1633.7,217.8 1636.8,229.2 1638.9,233.9 1640.9,236.6 1642,237.4 1643,236.1 1646.1,229 1647.1,226 1649.2,221.7 1650.2,220.7 1651.2,222.4 1654.3,233.1 1657.4,242.3 1659.5,245.5 1660.5,244.5 1662.6,239 1663.6,236.9 1664.6,235.6 1665.6,235.7 1667.7,237.4 1668.7,239 1669.8,240.1 1672.9,244.6 1673.9,247.3 1674.9,248.9 1679,259.9 1680.1,261.1 1681.1,261.3 1683.2,259.1 1685.2,257.9 1686.2,258.4 1687.3,259.3 1690.4,264.7 1691.4,268.4 1692.4,274.8 1693.5,277.3 1694.5,277.3 1695.5,277.6 1696.5,277.5 1697.6,277 1699.6,277.1 1700.7,277.4 1701.7,276.9 1702.7,277.2 1703.8,276.6 1704.8,276.8 1706.8,279.2 1707.9,280.9 1712,291.4 1716.1,301.1 1718.2,303.6 1719.2,303.6 1720.2,304.3 1721.3,303.9 1722.3,304.5 1723.3,304.5 1724.4,305.2 1727.4,308.8 1728.5,310.8 1729.5,312.1 1730.5,314.4 1731.6,315.9 1732.6,318.7 1734.7,326.4 1737.7,335.2 1738.8,336.7 1739.8,339.1 1741.9,342.3 1742.9,344.5 1743.9,345.3 1745,346.8 1746,347.4 1747,349.2 1748,349.9 1749.1,351 1750.1,353.4 1751.1,356.4 1753.2,366 1754.2,370.5 1755.3,374.1 1757.3,382.7 1760.4,394 1761.4,397.5 1762.5,399.6 1763.5,400.4 1764.5,402.3 1765.6,403.3 1766.6,405 1767.6,408.1 1769.7,416.3 1771.7,427.4 1773.8,438 1774.8,442.9 1777.9,453.1 1778.9,455.4 1781,462.1 1782,464 1785.1,472.4 1786.2,476.9 1787.2,483.6 1788.2,491.6 1789.2,498.5 1790.3,505.5 1792.3,515.8 1794.4,521.9 1795.4,524 1796.5,527.2 1798.5,536.4 1799.5,542.8 1801.6,554.4 1803.7,564.4 1805.7,575.7 1806.8,583.1 1807.8,590.5 1809.8,600 1810.9,603.6 1812.9,608.9 1814,610.8 1816,616.6 1818.1,624.7 1819.1,631.8 1820.1,639.3 1822.2,649.8 1823.2,656.2 1824.3,664.3 1825.3,672.5 1827.4,684.3 1828.4,690.6 1830.4,701.6 1831.5,706.4 1832.5,710 1833.5,715.2 1834.6,723.1 1835.6,730.2 1836.6,733.3 1837.7,735.6 1838.7,737.2 1839.7,738.4 1840.7,741.1 1842.8,751.4 1844.9,760.8 1846.9,770.8 1848,775.1 1849,780.6 1850,784 1852.1,789.2 1853.1,792.5 1854.1,799.6 1855.2,807.5 1857.2,816.4 1859.3,825.9 1860.3,833.1 1861.3,837.8 1862.4,846.5 1864.4,856.5 1866.5,867.1 1867.5,874.2 1868.6,879.2 1869.6,881.5 1871.6,890.6 1872.7,894.6 1874.7,905.8 1875.8,908.9 1876.8,913.6 1877.8,914.8 1879.9,923.1 1880.9,923.5 1881.9,925.4 1883,927.9 1884,932.5 1885,936 1886.1,937.3 1887.1,941.1 1888.1,946.8 1889.2,953.4 1890.2,954.3 1891.2,963.3 1892.2,966.3 1893.3,967 1894.3,971.3 1895.3,981 1896.4,984.1 1897.4,988.3 1898.4,987.9 1899.5,994.5 1900.5,998.3 1901.5,995.7 1902.5,1003.6 1903.6,1003.6 1904.6,1004.6 1905.6,1011.9 1906.7,1008.3 1908.7,1012.6 1909.8,1016.2 1910.8,1016.6 1911.8,1025 1912.8,1025.3 1914.9,1027.8 1915.9,1033.4 1917,1027.4 1918,1031.4 1919,1032.9 1920.1,1036.9 1921.1,1044.3 1922.1,1052.3 1924.2,1056 1925.2,1061.8 1926.2,1060.8 1927.3,1065.4 1929.3,1071.8 1930.4,1066.8 1931.4,1067.6 1932.4,1069 1933.4,1072.5 1934.5,1073.2 1935.5,1076.1 1936.5,1075.7 1937.6,1078.9 1938.6,1080.5 1939.6,1086.5 1940.7,1082.5 1942.7,1087.9 1943.7,1089.2 1944.8,1094.5 1945.8,1092.2 1946.8,1101.4 1947.9,1103.2 1948.9,1103.8 1949.9,1106.3 1951,1104.4 1952,1105.1 1953,1105 1954,1111.1 1955.1,1114 1956.1,1109.4 1957.1,1115 1958.2,1113.5 1959.2,1117.4 1960.2,1113.9 1961.3,1115.7 1962.3,1119.5 1963.3,1118.8 1964.3,1123.9 1965.4,1124.7 1966.4,1121.4 1967.4,1122.7 1968.5,1128.7 1969.5,1131.1 1971.6,1129.4 1972.6,1136 1974.6,1132.1 1975.7,1136.5 1976.7,1136.9 1977.7,1137.9 1978.8,1136.6 1979.8,1133.5 1980.8,1133.7 1981.9,1134.9 1982.9,1133 1983.9,1141.7 1984.9,1135.8 1986,1139.2 1987,1136.4 1988,1140.1 1989.1,1135.8 1990.1,1145 1991.1,1141.9 1992.2,1144.8 1993.2,1142.6 1994.2,1148.2 1995.2,1140.8 1996.3,1147.9 1997.3,1146 1998.3,1145.9 1999.4,1143.8 2000.4,1151.3 2001.4,1146.9 2002.5,1149.2 2003.5,1144.4 2004.5,1150.6 2005.5,1151.7 2006.6,1150 2008.6,1154.8 2009.7,1151.7 2010.7,1152.6 2012.8,1156 2013.8,1154.1 2014.8,1155.5 2015.8,1152 2016.9,1151.1 2017.9,1148.8 2018.9,1154.7 2020,1155.5 2021,1155.6 2023.1,1152.5 2024.1,1148.9 2025.1,1149.1 2026.1,1155.3 2027.2,1153.7 2028.2,1147.2 2028.9,1150.4"/>
<polyline class="cv" stroke="#ff8000" points="335,1198 346.4,1198 358.3,1198 369,1198 380.8,1198 391.5,1198 402.9,1198 414.8,1198.1 424.6,1198.1 434.6,1198.1 444.9,1198.1 455.2,1198.1 465.6,1198.1 476,1198.1 486.4,1198.1 496.7,1198.1 506.9,1198.1 516.8,1198.1 526.5,1198.1 538.2,1198.1 549.3,1198.1 559.8,1198.1 571.3,1198.1 583,1198.1 593.9,1198 605.3,1198 614,1197.8 624.6,1197.5 636.3,1196.4 647.1,1196.1 658.9,1195.9 670.3,1195.7 680,1195.6 689.7,1195.4 701.1,1195.3 712.9,1195 724.3,1194.8 735.5,1194.3 746.5,1193.8 757.4,1193.5 768.2,1193.3 779.5,1193.1 790.6,1192.9 800.1,1192.8 810,1192.6 819.9,1192.5 831.7,1192.4 842.6,1192.2 853.4,1192.1 865,1191.9 875.7,1191.8 886.8,1191.8 898,1191.6 909.2,1191.4 919.5,1191.2 931.2,1191 943.2,1190.8 954.5,1190.5 965.7,1190.3 975.8,1190.1 986,1189.9 996.6,1189.7 1006.6,1189.4 1017.5,1189 1029,1188.5 1040,1188 1050,1187.3 1061.2,1186.5 1072.7,1185.4 1083.7,1184.1 1094.4,1182.6 1105.5,1181.2 1115.2,1180.1 1127,1178.9 1138.7,1177.6 1148.7,1175.9 1159.7,1173.5 1170.3,1171.1 1181.1,1168.7 1191.4,1166.3 1202.2,1163.4 1213.2,1160.1 1223.6,1156.5 1233.8,1152.5 1243.8,1148.1 1253.4,1142.6 1262.9,1136.6 1271.4,1130.7 1280.1,1124.7 1288.6,1118.7 1297.5,1112.4 1306.2,1106 1314.4,1099.1 1322.7,1091.4 1329.9,1083.1 1337.1,1074.2 1342.2,1067.4 1347.4,1059.4 1352.5,1050.3 1355.6,1044.7 1360.8,1034.5 1362.8,1030.6 1368,1023.3 1369,1022.1 1371.1,1018.9 1376.2,1011.8 1379.3,1006.9 1382.4,1000.3 1383.4,998.6 1384.5,996.1 1389.6,986.6 1392.7,982 1396.8,973.6 1400.9,962.6 1403,954.4 1404,952.5 1406.1,950.7 1407.1,949.1 1409.2,947.2 1410.2,946.7 1413.3,942.9 1416.4,937.1 1418.4,932.6 1421.5,922.2 1422.6,918 1423.6,914.9 1424.6,912.9 1425.7,910.1 1430.8,900.6 1431.8,898.3 1432.9,895.1 1434.9,884.1 1436,880.5 1441.1,871.1 1442.1,869.4 1444.2,867.4 1445.2,867.5 1447.3,865.6 1448.3,862.9 1450.4,853.9 1452.4,845.4 1454.5,837.8 1456.6,832.1 1458.6,827.2 1460.7,823.5 1462.7,822.5 1464.8,822 1466.9,818.3 1468.9,809.1 1471,800.2 1473,792.1 1474.1,788.4 1478.2,779.9 1479.2,778.6 1480.2,776.6 1483.3,773.8 1485.4,771.7 1486.4,769.7 1487.5,763.3 1488.5,753.7 1489.5,746.2 1490.5,739.7 1491.6,736 1492.6,733.4 1494.7,729.7 1495.7,727.3 1496.7,726 1497.8,724 1502.9,717.6 1503.9,715.6 1505,712.3 1507,702.9 1509.1,695.2 1510.1,686 1511.1,679.4 1512.2,678.4 1514.2,677.5 1516.3,674.8 1517.3,673.1 1520.4,665.4 1521.4,661.1 1522.5,653.8 1523.5,646.2 1524.5,638.7 1525.6,631.9 1526.6,625.3 1527.6,619 1528.7,612.9 1529.7,609.6 1530.7,608.3 1531.7,608 1532.8,607.1 1533.8,607.2 1534.8,606 1535.9,605.3 1536.9,604.2 1537.9,602.5 1539,601.4 1540,599 1541,593.9 1542,586.8 1543.1,579.3 1544.1,569.9 1545.1,561.4 1546.2,555 1548.2,548.1 1550.3,544.6 1552.3,543.5 1553.4,543.3 1554.4,542.1 1555.4,539.6 1557.5,530.7 1558.5,525 1559.6,517.8 1560.6,508.5 1561.6,501.5 1562.6,494.7 1564.7,483.2 1565.7,479.2 1567.8,468.9 1569.9,462.9 1570.9,460.8 1571.9,461.4 1572.9,461 1574,461.5 1575,461.7 1576,461.4 1577.1,459.8 1578.1,453.1 1579.1,443.5 1580.2,435.8 1581.2,428.4 1582.2,421.8 1584.3,411.9 1586.3,403.6 1587.4,400.1 1591.5,390.9 1593.5,389 1594.6,388.4 1595.6,388.3 1597.7,389.2 1598.7,390.6 1599.7,391.5 1600.8,390.9 1601.8,389.5 1602.8,386.9 1604.9,380.8 1606.9,373.4 1609,362.5 1610,355.8 1612.1,345 1613.1,340.6 1614.1,337.1 1615.2,334.9 1616.2,333.7 1617.2,333.2 1618.3,334.5 1621.4,342.6 1622.4,343.8 1623.4,342.9 1624.4,341.5 1626.5,337.2 1627.5,333.4 1628.6,327.9 1629.6,321.3 1631.7,313.6 1634.7,306.2 1635.8,305.8 1636.8,306.6 1638.9,309.7 1639.9,310.1 1640.9,310.1 1642,309.4 1643,308.1 1644,305.6 1645,304 1646.1,301.6 1648.1,292.8 1650.2,282.5 1652.3,279.7 1653.3,280.3 1654.3,280.2 1655.3,279.4 1657.4,279.8 1658.4,279.1 1659.5,277.5 1661.5,272.5 1663.6,265.4 1664.6,263.6 1665.6,260.4 1666.7,258.5 1667.7,255.9 1670.8,250.4 1671.8,249.4 1672.9,249.4 1673.9,249.6 1674.9,249.4 1675.9,249.5 1677,249.1 1678,249.3 1682.1,239.9 1684.2,235.8 1685.2,234.5 1686.2,232.1 1687.3,231.3 1688.3,229.3 1690.4,227.9 1691.4,227.7 1692.4,227.9 1693.5,228.7 1694.5,230.4 1695.5,231.2 1696.5,230.8 1697.6,231 1698.6,230.6 1700.7,228.9 1702.7,226 1703.8,225.3 1704.8,223.6 1705.8,223.4 1706.8,222.5 1707.9,222.8 1708.9,222.7 1709.9,222.3 1711,223.1 1714.1,223.1 1715.1,224.1 1717.1,224.1 1719.2,225.1 1720.2,226.1 1721.3,225.7 1722.3,226.6 1723.3,226.8 1724.4,227.4 1726.4,227.8 1727.4,227.3 1728.5,228.1 1730.5,228.3 1732.6,230.1 1733.6,231.3 1734.7,231.5 1735.7,232.8 1736.7,232.8 1737.7,234.3 1738.8,234.2 1739.8,235 1740.8,234.8 1741.9,234.4 1742.9,234.8 1743.9,235.6 1746,236.2 1747,237.5 1748,240.6 1749.1,242.6 1752.2,250.7 1753.2,252.7 1755.3,255.7 1756.3,256.5 1757.3,258.6 1758.3,260 1759.4,260.9 1760.4,262.4 1761.4,262.7 1762.5,262.7 1763.5,263.6 1764.5,264.2 1765.6,266.2 1766.6,270.3 1767.6,276.3 1768.6,282.2 1769.7,286.4 1770.7,288.8 1771.7,292.3 1775.9,301.6 1780,308.9 1781,312.2 1782,316.6 1784.1,328.1 1786.2,338.4 1787.2,342 1788.2,344.8 1789.2,346.9 1790.3,347.9 1791.3,349.4 1792.3,352 1794.4,359.5 1795.4,363.6 1797.5,373.5 1799.5,383.7 1800.6,390 1801.6,397.3 1802.6,402.8 1803.7,410 1805.7,421.1 1807.8,431 1809.8,438.8 1810.9,443.8 1811.9,447 1814,456.1 1815,460.1 1817.1,471.2 1818.1,476.6 1819.1,480.5 1820.1,483.5 1822.2,492.5 1823.2,495.7 1825.3,504.8 1826.3,511 1827.4,517.2 1829.4,528.8 1831.5,539 1833.5,548.5 1834.6,553.2 1837.7,561.8 1839.7,568.1 1840.7,572 1842.8,582.4 1843.8,586.7 1845.9,598 1846.9,604.5 1848,612.1 1850,622.4 1851,628.3 1852.1,632.6 1854.1,643.4 1856.2,653.2 1857.2,660.1 1858.3,666.6 1859.3,673.6 1860.3,680.5 1861.3,687.5 1862.4,694.7 1863.4,705.2 1864.4,713.4 1865.5,716 1866.5,719.7 1867.5,726.2 1868.6,731 1869.6,739.1 1870.6,749.1 1871.6,757 1872.7,763.2 1876.8,774.2 1877.8,779.8 1879.9,788.4 1880.9,792.7 1881.9,794.5 1883,801.5 1884,805.8 1885,807.5 1887.1,818.9 1888.1,829.4 1890.2,838.1 1891.2,840 1892.2,847.1 1893.3,857.6 1894.3,859.9 1895.3,867.5 1896.4,874.3 1897.4,878.9 1898.4,882.5 1899.5,883.4 1900.5,888.8 1902.5,891.6 1903.6,896.6 1904.6,909.1 1905.6,912.4 1907.7,910.3 1908.7,916.4 1909.8,922.2 1911.8,922.4 1912.8,925.9 1913.9,927.8 1914.9,931.1 1915.9,932.5 1917,934.3 1918,942.2 1920.1,945.6 1921.1,954 1922.1,963.1 1923.1,964.4 1924.2,971.6 1925.2,970.5 1926.2,973.8 1927.3,974.5 1928.3,986 1929.3,988.2 1930.4,993.2 1931.4,996.5 1932.4,994.4 1933.4,993 1934.5,995.4 1935.5,996.9 1936.5,1000.3 1937.6,1000.8 1938.6,1002 1939.6,1013.1 1940.7,1008.4 1941.7,1014.2 1942.7,1021.3 1943.7,1018.4 1944.8,1018 1945.8,1021.9 1946.8,1031.2 1947.9,1022.9 1948.9,1029.2 1949.9,1036.1 1951,1032.7 1952,1045.6 1953,1048.1 1954,1051.5 1955.1,1052.7 1956.1,1042.8 1957.1,1050.5 1958.2,1053.2 1959.2,1048.1 1960.2,1057.2 1961.3,1052.5 1962.3,1054.3 1963.3,1055.1 1964.3,1060.3 1965.4,1061.1 1966.4,1061 1967.4,1063.8 1968.5,1063.2 1969.5,1065.7 1970.5,1071.3 1971.6,1067.8 1972.6,1074.7 1973.6,1079.1 1974.6,1073 1975.7,1069.8 1976.7,1080.7 1977.7,1076 1978.8,1072.7 1979.8,1071.3 1980.8,1080.1 1981.9,1076.6 1982.9,1083.8 1983.9,1077.5 1984.9,1078.5 1986,1086.5 1987,1081.3 1988,1084.8 1989.1,1090.3 1990.1,1085.9 1991.1,1090.6 1992.2,1093.5 1993.2,1085.5 1994.2,1083.4 1995.2,1084.9 1996.3,1088.4 1997.3,1086.5 1998.3,1085.2 1999.4,1090.4 2000.4,1094 2001.4,1095.4 2002.5,1087.5 2003.5,1099.6 2004.5,1097 2005.5,1098.8 2006.6,1089.3 2007.6,1091.2 2008.6,1089.1 2009.7,1089.5 2010.7,1093.3 2011.7,1093.2 2012.8,1094.4 2013.8,1094.7 2014.8,1103.9 2015.8,1091.7 2016.9,1104.1 2017.9,1096.9 2018.9,1094.6 2020,1103.2 2021,1093.1 2022,1101.1 2023.1,1093.8 2024.1,1095.1 2025.1,1098.4 2026.1,1104.2 2027.2,1099.5 2028.2,1103.7 2028.9,1104.5"/>
<polyline class="cv" stroke="#ff00ff" points="335,1198 345.9,1198 357.1,1198 368.6,1198 379.4,1198 390.9,1198 400.6,1198 410.6,1198 420.9,1198 431.3,1198 441.8,1198 452.2,1198.1 462.6,1198.1 472.7,1198.1 482.5,1198.1 494.1,1198.1 505,1198.1 516.8,1198 528.4,1198 540,1198 547.2,1197.9 557.7,1197.5 558.4,1197.1 570.1,1196.8 581.4,1196.7 592.7,1196.5 603.3,1196.3 613.3,1196.1 624.5,1195.9 634.9,1195.6 645.1,1195.3 655.5,1195 666.7,1194.5 678.4,1194.1 689.1,1193.6 700,1193.2 710.9,1192.7 721.6,1192.3 733,1192 743.9,1191.6 754.5,1191.3 766.4,1190.8 776.6,1190.4 788,1189.9 799,1189.5 810,1189 821,1188.5 832,1188 843.4,1187.5 853.6,1187.1 865.4,1186.5 875.7,1186.1 886.4,1185.5 898.3,1185 908.3,1184.5 918.9,1184 930.2,1183.5 941.1,1183 951.6,1182.5 963.1,1182.1 974.3,1181.8 985.5,1181.4 997,1181 1007.6,1180.6 1018.6,1180.1 1029.5,1179.7 1040,1179.1 1050,1178.3 1061.2,1177.3 1072.7,1176.3 1084.5,1175.4 1095.8,1174.6 1107.1,1173.6 1117.1,1172.5 1128.5,1171.2 1140,1170 1151.5,1169.1 1162.3,1168.4 1173,1167.6 1182.7,1166.7 1193.7,1165.7 1204.5,1164.5 1214.4,1162.8 1225.4,1160.8 1236.1,1158.9 1247.3,1156.9 1259,1154.7 1260,1154.5 1262.5,1152.2 1273.5,1149.7 1284.5,1147.4 1294.2,1145.6 1305.7,1143.2 1309.3,1141.6 1316.3,1137.8 1317.5,1137.3 1319.5,1137.1 1323.6,1137.5 1325.3,1137.3 1326.7,1136.5 1333.2,1131.4 1341.3,1128.3 1343,1127.5 1352.1,1120.1 1354.1,1119.2 1359.3,1118.2 1360.3,1117.8 1361.3,1117 1367.5,1108.9 1368.5,1107.9 1370.6,1107 1374.7,1106.6 1375.7,1106.2 1376.8,1105.4 1377.8,1104 1380.9,1098.1 1381.9,1096.6 1383,1095.6 1384,1095.2 1387.1,1094.7 1388.1,1094.3 1390.2,1090.6 1395.3,1079.9 1398.4,1074.4 1399.4,1073.1 1401.5,1072.2 1406.6,1072.8 1408.7,1071.7 1412.8,1064.4 1416.9,1055.6 1419,1051 1420,1049.1 1422.1,1048.7 1424.2,1047.1 1425.2,1045.9 1426.2,1045.5 1428.3,1046.2 1430.3,1044.4 1432.4,1034.5 1433.4,1029.7 1434.5,1027.1 1437.5,1024 1438.6,1023.9 1439.6,1023.3 1441.7,1023.3 1442.7,1023 1444.8,1023.5 1445.8,1022.6 1446.8,1021.2 1447.8,1017.8 1449.9,1006.8 1450.9,1003.3 1452,1001 1453,1000.1 1454,998 1455.1,997.5 1456.1,996.5 1458.1,996.5 1459.2,995.9 1460.2,996.1 1461.2,995.6 1462.3,995.8 1463.3,994.2 1464.3,991.7 1465.4,988.3 1467.4,979.9 1469.5,972.8 1471.5,968.7 1472.6,967.7 1475.7,965.5 1476.7,965 1478.7,964.3 1479.8,963.7 1480.8,963.7 1482.9,961.5 1483.9,959.2 1486,952.2 1487,947.7 1488,941.6 1489,937.9 1490.1,936.2 1492.1,935.8 1493.2,936.1 1494.2,935.6 1495.2,934.7 1497.3,931.1 1500.4,921.5 1502.4,913 1504.5,903.5 1505.5,898.4 1507.6,890.4 1508.6,889.9 1509.6,888.9 1511.7,888.9 1512.7,888 1513.8,886 1516.9,877.4 1517.9,872.4 1518.9,865.9 1519.9,858.8 1521,855.6 1524.1,848.8 1526.1,846.2 1527.2,845.3 1529.2,844.6 1530.2,845.2 1531.3,844.4 1532.3,842.9 1533.3,837.3 1534.4,830.7 1535.4,823.6 1536.4,815.7 1537.5,810.4 1538.5,806.5 1539.5,804.9 1540.5,802.1 1541.6,800.1 1542.6,799 1543.6,796.9 1544.7,797 1545.7,796.2 1547.8,795.8 1549.8,794.8 1551.9,787 1552.9,782.6 1553.9,775 1555,763.7 1556,755.3 1557,747.1 1559.1,737.6 1560.1,734.8 1561.1,732.9 1562.2,730.3 1563.2,729.2 1564.2,727.8 1565.3,727.9 1569.4,725.4 1570.4,725 1571.4,722.6 1572.5,717.9 1574.5,706.5 1575.6,700.7 1576.6,689.5 1577.6,676.9 1578.7,666.3 1579.7,661.7 1580.7,658.7 1582.8,654.3 1583.8,653 1584.8,650.5 1585.9,649.1 1586.9,648.4 1589,646.1 1590,644.2 1592,642.8 1593.1,641.5 1594.1,639.3 1595.1,636.1 1596.2,630.5 1597.2,622.7 1599.3,611.5 1600.3,604.4 1601.3,598 1602.3,590.3 1603.4,581.8 1604.4,573.4 1605.4,566.4 1606.5,559.7 1607.5,554 1609.6,545.3 1610.6,542 1611.6,537.8 1612.6,539.5 1614.7,548.2 1615.7,550.8 1616.8,551.9 1617.8,551 1619.9,545.5 1620.9,536.8 1621.9,525.9 1622.9,516.4 1624,510 1625,502.8 1626,496.3 1627.1,488.2 1628.1,479.7 1629.1,465.6 1630.2,459.5 1631.2,454.9 1632.2,455.2 1633.2,462.4 1634.3,471.5 1635.3,478.7 1636.3,481.2 1637.4,478.8 1639.4,467.8 1640.5,460.5 1641.5,450.7 1642.5,441 1643.5,433.2 1644.6,425.3 1645.6,416.8 1646.6,406.1 1647.7,397.1 1648.7,392.6 1649.7,389.6 1650.8,389.5 1652.8,399.9 1653.8,404.6 1654.9,407.8 1655.9,407.7 1656.9,403.4 1658,397.4 1659,389.3 1660,366.9 1661.1,356.4 1662.1,348.7 1664.1,338.1 1667.2,328.5 1668.3,326.2 1669.3,325.8 1670.3,327.5 1671.4,330 1673.4,338.3 1675.5,342.9 1676.5,342.2 1677.5,339.7 1679.6,329.1 1680.6,321.8 1681.7,313.1 1682.7,305.7 1683.7,302.5 1684.7,291 1685.8,284.7 1687.8,291.6 1688.9,293.8 1689.9,297.6 1690.9,299.3 1692,300 1693,298.5 1694,296.3 1695,292.3 1696.1,289.2 1697.1,282.8 1698.1,274.8 1699.2,266.3 1700.2,258.4 1702.3,247.2 1703.3,243.5 1704.3,241.4 1705.3,242.8 1707.4,248.9 1708.4,250.5 1709.5,251.4 1710.5,251.4 1711.5,252 1712.6,251.1 1713.6,251 1714.6,251.5 1715.6,250.4 1717.7,248.9 1718.7,247.4 1719.8,244.8 1720.8,240.7 1721.8,233.9 1723.9,222.4 1724.9,215.8 1725.9,212 1728,209 1730.1,209.6 1733.2,218.9 1736.2,228.8 1737.3,231.8 1738.3,233.7 1739.3,234.4 1740.4,232.3 1741.4,227.7 1743.5,220.6 1744.5,218.3 1745.5,216.7 1746.5,214.6 1747.6,213.4 1748.6,213.1 1749.6,213.7 1750.7,214.5 1751.7,215.9 1752.7,218.2 1753.8,224.1 1754.8,231.2 1755.8,236.8 1756.8,240.7 1757.9,245.9 1759.9,253.4 1761,253.4 1763,250.3 1765.1,245.4 1766.1,244.7 1767.1,245.2 1769.2,253.2 1770.2,257.8 1771.3,264.8 1772.3,271.5 1773.3,277.4 1774.4,281.6 1775.4,283.8 1777.4,289.8 1779.5,293.5 1781.6,295.3 1782.6,297.2 1783.6,297.5 1784.7,299.3 1786.7,308.9 1788.8,320.3 1789.8,324.1 1790.8,326 1792.9,331.8 1796,342.3 1798,349.4 1800.1,358.5 1801.1,364.4 1802.2,371.6 1803.2,378.8 1804.2,387.3 1805.3,396.1 1806.3,403.5 1807.3,411.2 1808.3,418 1809.4,424 1810.4,427.5 1811.4,427.7 1812.5,427 1813.5,428 1814.5,427.8 1815.6,427.9 1816.6,430.7 1817.6,437.2 1818.6,443.3 1819.7,451.5 1820.7,457.6 1821.7,464.1 1822.8,469.2 1823.8,476.3 1824.8,482 1825.9,491.1 1826.9,499.3 1827.9,508 1828.9,516 1830,521 1831,524.1 1832,530.6 1834.1,541.8 1835.1,547.8 1836.2,550.1 1837.2,551.8 1839.2,553.7 1840.3,556 1841.3,562 1842.3,566.5 1843.4,567.8 1844.4,570.6 1846.5,580.3 1847.5,585.3 1848.5,589 1849.5,590.9 1850.6,594.2 1852.6,602.1 1854.7,613.7 1855.7,620.9 1856.8,627.5 1857.8,634 1858.8,641.6 1860.9,653.2 1861.9,657 1862.9,664.1 1864,678.5 1865,684.2 1866,691.8 1867.1,701.8 1868.1,708.6 1870.1,718.5 1871.2,719.8 1872.2,724.5 1874.3,728.5 1876.3,736.1 1877.4,747.8 1878.4,751.8 1879.4,752.9 1880.4,755.6 1881.5,759.1 1882.5,761.5 1883.5,760.4 1884.6,766.9 1885.6,766.4 1886.6,775.3 1888.7,785.5 1889.7,789.8 1890.7,801 1891.8,807.4 1892.8,809.7 1893.8,819.8 1894.9,830.4 1895.9,839.1 1896.9,841.5 1898,841.1 1899,852.1 1900,847.9 1901,851 1902.1,859.8 1903.1,856 1904.1,860.9 1905.2,874 1906.2,870.9 1907.2,879.9 1908.3,873.3 1909.3,875.8 1910.3,870.2 1911.3,877 1912.4,881.5 1913.4,877.9 1915.5,886.7 1916.5,888.6 1917.5,896.5 1918.6,896.4 1919.6,911.4 1920.6,906.3 1921.6,911.2 1922.7,918.1 1923.7,925.7 1924.7,920 1925.8,929 1926.8,947.7 1927.8,940.4 1928.9,957.6 1929.9,958.5 1930.9,947 1931.9,950.7 1933,960.6 1934,958.1 1935,964.1 1936.1,952.9 1937.1,953 1938.1,958.2 1939.2,958.9 1940.2,974.1 1941.2,960.3 1942.2,966.8 1943.3,983.4 1944.3,973 1945.3,989 1946.4,988.8 1947.4,992.1 1948.4,986.2 1949.5,988.3 1950.5,999.9 1951.5,1012.6 1952.5,1008 1953.6,1001.6 1954.6,1010.5 1955.6,1006.6 1956.7,1010.7 1957.7,1023.4 1958.7,1015.1 1959.8,1007.7 1960.8,1012.9 1961.8,1008.2 1962.8,1009.1 1963.9,1016.4 1964.9,1015.5 1965.9,1009 1967,1013.9 1968,998.9 1969,1016.2 1970.1,1011.2 1971.1,1010.3 1972.1,1038.2 1973.1,1036.7 1974.2,1032.6 1975.2,1032 1976.2,1028.6 1977.3,1032.3 1978.3,1029.4 1979.3,1039.4 1980.4,1034.8 1981.4,1050 1982.4,1049.6 1983.4,1031.3 1984.5,1044.9 1985.5,1030.6 1986.5,1016.1 1987.6,1030.9 1988.6,1045.7 1989.6,1040.1 1990.7,1027.2 1991.7,1050.2 1992.7,1048.1 1993.7,1055.3 1994.8,1042.8 1995.8,1035 1996.8,1034.1 1997.9,1058.2 1998.9,1042.2 1999.9,1043.1 2001,1040.6 2002,1041 2003,1039.6 2004,1047.8 2005.1,1051 2006.1,1037.9 2007.1,1028.6 2008.2,1038.1 2009.2,1051.6 2010.2,1041.4 2011.3,1049.7 2012.3,1045.2 2013.3,1054.7 2014.3,1059 2015.4,1040.5 2016.4,1047.9 2017.4,1043.9 2018.5,1034 2019.5,1056.6 2020.5,1031.4 2021.6,1046.2 2022.6,1047.1 2023.6,1046.8 2024.6,1032.8 2025.7,1039.4 2026.7,1047.4 2027.7,1055.6 2028.8,1053.2 2028.9,1057.7"/>
</g>
<g fill="#000">
<rect x="335.1" y="1226" width="7" height="21" rx="1.3"/>
<rect x="335.1" y="28" width="7" height="21" rx="1.3"/>
<rect x="376.3" y="1226" width="7" height="21" rx="1.3"/>
<rect x="376.3" y="28" width="7" height="21" rx="1.3"/>
<rect x="417.4" y="1226" width="7" height="21" rx="1.3"/>
<rect x="417.4" y="28" width="7" height="21" rx="1.3"/>
<rect x="458.6" y="1226" width="7" height="21" rx="1.3"/>
<rect x="458.6" y="28" width="7" height="21" rx="1.3"/>
<rect x="499.7" y="1209" width="7" height="38" rx="1.3"/>
<rect x="499.7" y="28" width="7" height="38" rx="1.3"/>
<rect x="540.9" y="1226" width="7" height="21" rx="1.3"/>
<rect x="540.9" y="28" width="7" height="21" rx="1.3"/>
<rect x="582" y="1226" width="7" height="21" rx="1.3"/>
<rect x="582" y="28" width="7" height="21" rx="1.3"/>
<rect x="623.1" y="1226" width="7" height="21" rx="1.3"/>
<rect x="623.1" y="28" width="7" height="21" rx="1.3"/>
<rect x="664.3" y="1226" width="7" height="21" rx="1.3"/>
<rect x="664.3" y="28" width="7" height="21" rx="1.3"/>
<rect x="705.4" y="1209" width="7" height="38" rx="1.3"/>
<rect x="705.4" y="28" width="7" height="38" rx="1.3"/>
<rect x="746.6" y="1226" width="7" height="21" rx="1.3"/>
<rect x="746.6" y="28" width="7" height="21" rx="1.3"/>
<rect x="787.7" y="1226" width="7" height="21" rx="1.3"/>
<rect x="787.7" y="28" width="7" height="21" rx="1.3"/>
<rect x="828.9" y="1226" width="7" height="21" rx="1.3"/>
<rect x="828.9" y="28" width="7" height="21" rx="1.3"/>
<rect x="870" y="1226" width="7" height="21" rx="1.3"/>
<rect x="870" y="28" width="7" height="21" rx="1.3"/>
<rect x="911.1" y="1209" width="7" height="38" rx="1.3"/>
<rect x="911.1" y="28" width="7" height="38" rx="1.3"/>
<rect x="952.3" y="1226" width="7" height="21" rx="1.3"/>
<rect x="952.3" y="28" width="7" height="21" rx="1.3"/>
<rect x="993.4" y="1226" width="7" height="21" rx="1.3"/>
<rect x="993.4" y="28" width="7" height="21" rx="1.3"/>
<rect x="1034.6" y="1226" width="7" height="21" rx="1.3"/>
<rect x="1034.6" y="28" width="7" height="21" rx="1.3"/>
<rect x="1075.7" y="1226" width="7" height="21" rx="1.3"/>
<rect x="1075.7" y="28" width="7" height="21" rx="1.3"/>
<rect x="1116.9" y="1209" width="7" height="38" rx="1.3"/>
<rect x="1116.9" y="28" width="7" height="38" rx="1.3"/>
<rect x="1158" y="1226" width="7" height="21" rx="1.3"/>
<rect x="1158" y="28" width="7" height="21" rx="1.3"/>
<rect x="1199.1" y="1226" width="7" height="21" rx="1.3"/>
<rect x="1199.1" y="28" width="7" height="21" rx="1.3"/>
<rect x="1240.3" y="1226" width="7" height="21" rx="1.3"/>
<rect x="1240.3" y="28" width="7" height="21" rx="1.3"/>
<rect x="1281.4" y="1226" width="7" height="21" rx="1.3"/>
<rect x="1281.4" y="28" width="7" height="21" rx="1.3"/>
<rect x="1322.6" y="1209" width="7" height="38" rx="1.3"/>
<rect x="1322.6" y="28" width="7" height="38" rx="1.3"/>
<rect x="1363.7" y="1226" width="7" height="21" rx="1.3"/>
<rect x="1363.7" y="28" width="7" height="21" rx="1.3"/>
<rect x="1404.9" y="1226" width="7" height="21" rx="1.3"/>
<rect x="1404.9" y="28" width="7" height="21" rx="1.3"/>
<rect x="1446" y="1226" width="7" height="21" rx="1.3"/>
<rect x="1446" y="28" width="7" height="21" rx="1.3"/>
<rect x="1487.1" y="1226" width="7" height="21" rx="1.3"/>
<rect x="1487.1" y="28" width="7" height="21" rx="1.3"/>
<rect x="1528.3" y="1209" width="7" height="38" rx="1.3"/>
<rect x="1528.3" y="28" width="7" height="38" rx="1.3"/>
<rect x="1569.4" y="1226" width="7" height="21" rx="1.3"/>
<rect x="1569.4" y="28" width="7" height="21" rx="1.3"/>
<rect x="1610.6" y="1226" width="7" height="21" rx="1.3"/>
<rect x="1610.6" y="28" width="7" height="21" rx="1.3"/>
<rect x="1651.7" y="1226" width="7" height="21" rx="1.3"/>
<rect x="1651.7" y="28" width="7" height="21" rx="1.3"/>
<rect x="1692.9" y="1226" width="7" height="21" rx="1.3"/>
<rect x="1692.9" y="28" width="7" height="21" rx="1.3"/>
<rect x="1734" y="1209" width="7" height="38" rx="1.3"/>
<rect x="1734" y="28" width="7" height="38" rx="1.3"/>
<rect x="1775.1" y="1226" width="7" height="21" rx="1.3"/>
<rect x="1775.1" y="28" width="7" height="21" rx="1.3"/>
<rect x="1816.3" y="1226" width="7" height="21" rx="1.3"/>
<rect x="1816.3" y="28" width="7" height="21" rx="1.3"/>
<rect x="1857.4" y="1226" width="7" height="21" rx="1.3"/>
<rect x="1857.4" y="28" width="7" height="21" rx="1.3"/>
<rect x="1898.6" y="1226" width="7" height="21" rx="1.3"/>
<rect x="1898.6" y="28" width="7" height="21" rx="1.3"/>
<rect x="1939.7" y="1209" width="7" height="38" rx="1.3"/>
<rect x="1939.7" y="28" width="7" height="38" rx="1.3"/>
<rect x="1980.9" y="1226" width="7" height="21" rx="1.3"/>
<rect x="1980.9" y="28" width="7" height="21" rx="1.3"/>
<rect x="297" y="1195" width="38" height="7" rx="1.3"/>
<rect x="1988" y="1195" width="38" height="7" rx="1.3"/>
<rect x="297" y="1097.4" width="21" height="7" rx="1.3"/>
<rect x="2005" y="1097.4" width="21" height="7" rx="1.3"/>
<rect x="297" y="999.8" width="21" height="7" rx="1.3"/>
<rect x="2005" y="999.8" width="21" height="7" rx="1.3"/>
<rect x="297" y="902.2" width="21" height="7" rx="1.3"/>
<rect x="2005" y="902.2" width="21" height="7" rx="1.3"/>
<rect x="297" y="804.6" width="21" height="7" rx="1.3"/>
<rect x="2005" y="804.6" width="21" height="7" rx="1.3"/>
<rect x="297" y="707" width="38" height="7" rx="1.3"/>
<rect x="1988" y="707" width="38" height="7" rx="1.3"/>
<rect x="297" y="609.4" width="21" height="7" rx="1.3"/>
<rect x="2005" y="609.4" width="21" height="7" rx="1.3"/>
<rect x="297" y="511.8" width="21" height="7" rx="1.3"/>
<rect x="2005" y="511.8" width="21" height="7" rx="1.3"/>
<rect x="297" y="414.2" width="21" height="7" rx="1.3"/>
<rect x="2005" y="414.2" width="21" height="7" rx="1.3"/>
<rect x="297" y="316.6" width="21" height="7" rx="1.3"/>
<rect x="2005" y="316.6" width="21" height="7" rx="1.3"/>
<rect x="297" y="219" width="38" height="7" rx="1.3"/>
<rect x="1988" y="219" width="38" height="7" rx="1.3"/>
<rect x="297" y="121.4" width="21" height="7" rx="1.3"/>
<rect x="2005" y="121.4" width="21" height="7" rx="1.3"/>
</g>
<path fill="#000" fill-rule="evenodd" d="M295.5 24L2027.5 24L2029 25.5L2029 1249.5L2027.5 1251L295.5 1251L294 1249.5L294 25.5Z M301 32H2022V1243H301Z"/>
<text class="tk" transform="translate(297.5 1340.8) scale(0.978 1)" text-anchor="middle">300</text>
<text class="tk" transform="translate(503.2 1340.8) scale(0.978 1)" text-anchor="middle">400</text>
<text class="tk" transform="translate(708.9 1340.8) scale(0.978 1)" text-anchor="middle">500</text>
<text class="tk" transform="translate(914.6 1340.8) scale(0.978 1)" text-anchor="middle">600</text>
<text class="tk" transform="translate(1120.4 1340.8) scale(0.978 1)" text-anchor="middle">700</text>
<text class="tk" transform="translate(1326.1 1340.8) scale(0.978 1)" text-anchor="middle">800</text>
<text class="tk" transform="translate(1531.8 1340.8) scale(0.978 1)" text-anchor="middle">900</text>
<text class="tk" transform="translate(1737.5 1340.8) scale(0.978 1)" text-anchor="middle">1000</text>
<text class="tk" transform="translate(1943.2 1340.8) scale(0.978 1)" text-anchor="middle">1100</text>
<text class="tk" transform="translate(261 245.6) scale(0.978 1)" text-anchor="end">1.0</text>
<text class="tk" transform="translate(261 733.3) scale(0.978 1)" text-anchor="end">0.5</text>
<text class="tk" transform="translate(261 1221.3) scale(0.978 1)" text-anchor="end">0.0</text>
<text class="ax" x="1163.2" y="1486.8" text-anchor="middle">Wavelength [nm]</text>
<text class="ax" transform="translate(94.2 727.6) rotate(-90)" text-anchor="middle" letter-spacing="0.16">PL Intensity [arb.u.]</text>
<text class="lb" transform="translate(1136 178.8) scale(0.978 1)" fill="#ff0000">P1</text>
<text class="lb" transform="translate(1458 178.8) scale(0.978 1)" fill="#00ff00">P2</text>
<text class="lb" transform="translate(1567 179.8) scale(0.978 1)" fill="#0000ff">P3</text>
<text class="lb" transform="translate(1664 182.7) scale(0.978 1)" fill="#ff8000">P4</text>
<text class="lb" transform="translate(1767 184.6) scale(0.978 1)" fill="#ff00ff">P5</text>
</svg>
</body>
</html>
